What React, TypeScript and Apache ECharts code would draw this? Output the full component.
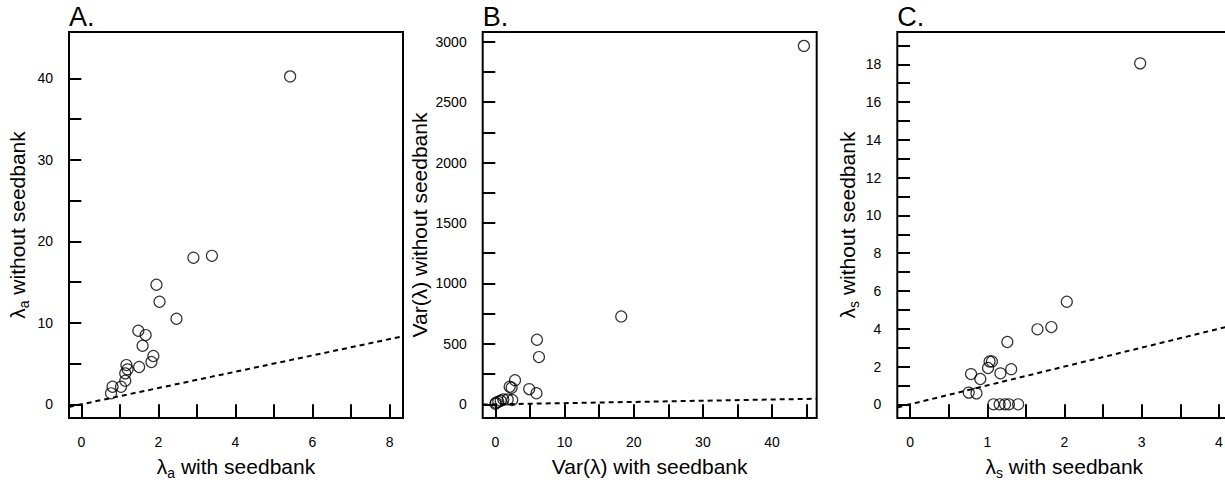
import React, { useEffect, useRef } from "react";
import * as echarts from "echarts";

// ---------- Panel A: lambda_a ----------
const aWith = [0.77, 0.81, 1.03, 1.14, 1.14, 1.2, 1.17, 1.5, 1.82, 1.87, 1.59, 1.48, 1.67, 2.47, 2.03, 1.95, 2.91, 3.39, 5.42];
const aWithout = [1.35, 2.16, 2.16, 2.9, 3.8, 4.29, 4.82, 4.58, 5.19, 5.93, 7.19, 9.03, 8.5, 10.5, 12.59, 14.68, 17.99, 18.23, 40.25];
const aXLim = [-0.32, 8.35];
const aYLim = [-1.68, 45.7];
const aXTicks = [0, 1, 2, 3, 4, 5, 6, 7, 8];
const aXLabels = [0, 2, 4, 6, 8];
const aYTicks = [0, 5, 10, 15, 20, 25, 30, 35, 40];
const aYLabels = [0, 10, 20, 30, 40];

// ---------- Panel B: Var(lambda) ----------
const bWith = [0.02, 0.1, 0.43, 0.78, 1.16, 1.79, 2.45, 2.08, 2.36, 2.85, 4.9, 5.95, 6.02, 6.31, 18.2, 44.6];
const bWithout = [5, 13, 22, 30, 41, 41, 36, 146, 137, 200, 126, 92, 534, 391, 727, 2965];
const bXLim = [-1.82, 46.45];
const bYLim = [-113, 3080];
const bXTicks = [0, 5, 10, 15, 20, 25, 30, 35, 40, 45];
const bXLabels = [0, 10, 20, 30, 40];
const bYTicks = [0, 250, 500, 750, 1000, 1250, 1500, 1750, 2000, 2250, 2500, 2750, 3000];
const bYLabels = [0, 500, 1000, 1500, 2000, 2500, 3000];

// ---------- Panel C: lambda_s ----------
const cWith = [0.76, 0.86, 0.79, 0.91, 1.01, 1.03, 1.06, 1.17, 1.31, 1.26, 1.65, 1.83, 2.03, 2.98, 1.08, 1.16, 1.23, 1.28, 1.4];
const cWithout = [0.62, 0.58, 1.6, 1.34, 1.92, 2.27, 2.27, 1.64, 1.86, 3.3, 3.97, 4.09, 5.43, 18.05, 0, 0, 0, 0, 0];
const cXLim = [-0.165, 4.16];
const cYLim = [-0.725, 19.71];
const cXTicks = [0, 0.5, 1, 1.5, 2, 2.5, 3, 3.5, 4];
const cXLabels = [0, 1, 2, 3, 4];
const cYTicks = [0, 1, 2, 3, 4, 5, 6, 7, 8, 9, 10, 11, 12, 13, 14, 15, 16, 17, 18, 19];
const cYLabels = [0, 2, 4, 6, 8, 10, 12, 14, 16, 18];

const FF = "'Liberation Sans', Arial, Helvetica, sans-serif";

const panels = [
  { letter: "A.", left: 69, xs: aWith, ys: aWithout, xLim: aXLim, yLim: aYLim, xTicks: aXTicks, xLabels: aXLabels, yTicks: aYTicks, yLabels: aYLabels,
    xTitle: "{m|λ}{s|a}{m| with seedbank}", yTitle: "{m|λ}{s|a}{m| without seedbank}", yTitleX: 17 },
  { letter: "B.", left: 482.7, xs: bWith, ys: bWithout, xLim: bXLim, yLim: bYLim, xTicks: bXTicks, xLabels: bXLabels, yTicks: bYTicks, yLabels: bYLabels,
    xTitle: "{m|Var(λ) with seedbank}", yTitle: "{m|Var(λ) without seedbank}", yTitleX: 419 },
  { letter: "C.", left: 897.3, xs: cWith, ys: cWithout, xLim: cXLim, yLim: cYLim, xTicks: cXTicks, xLabels: cXLabels, yTicks: cYTicks, yLabels: cYLabels,
    xTitle: "{m|λ}{s|s}{m| with seedbank}", yTitle: "{m|λ}{s|s}{m| without seedbank}", yTitleX: 847 },
];

const GRID_TOP = 32;
const GRID_H = 386;
const GRID_W = 334;

const rich = {
  m: { fontSize: 21, fontFamily: FF, lineHeight: 28, verticalAlign: "middle", fill: "#000" },
  s: { fontSize: 14, fontFamily: FF, lineHeight: 14, verticalAlign: "bottom", fill: "#000" },
};

function buildOption() {
  const grid: any[] = [];
  const xAxis: any[] = [];
  const yAxis: any[] = [];
  const series: any[] = [];
  const graphic: any[] = [];

  panels.forEach((p, i) => {
    grid.push({
      left: p.left, top: GRID_TOP, width: GRID_W, height: GRID_H,
      outerBoundsMode: "none", containLabel: false,
      show: true, borderColor: "#000", borderWidth: 2, backgroundColor: "transparent",
    });
    const axisBase = (lim: number[], ticks: number[], labels: number[], margin: number) => ({
      type: "value",
      gridIndex: i,
      min: lim[0],
      max: lim[1],
      axisLine: { show: false },
      axisTick: { show: true, inside: false, length: 13, lineStyle: { color: "#000", width: 2 }, customValues: ticks },
      axisLabel: { show: true, margin, color: "#000", fontSize: 14, fontFamily: FF, customValues: labels, formatter: (v: number) => String(v) },
      splitLine: { show: false },
    });
    xAxis.push(axisBase(p.xLim, p.xTicks, p.xLabels, 17));
    yAxis.push(axisBase(p.yLim, p.yTicks, p.yLabels, 16));

    series.push({
      type: "line",
      xAxisIndex: i,
      yAxisIndex: i,
      data: [[p.xLim[0], p.xLim[0]], [p.xLim[1], p.xLim[1]]],
      showSymbol: false,
      symbol: "none",
      clip: true,
      silent: true,
      z: 1,
      lineStyle: { color: "#000", width: 2, type: [5, 4] },
    });
    series.push({
      type: "scatter",
      xAxisIndex: i,
      yAxisIndex: i,
      data: p.xs.map((x, k) => [x, p.ys[k]]),
      symbol: "circle",
      symbolSize: 11,
      z: 2,
      itemStyle: { color: "rgba(0,0,0,0)", borderColor: "#000", borderWidth: 1.2 },
    });

    const cx = p.left + GRID_W / 2;
    graphic.push({
      type: "text",
      x: p.left,
      y: 17,
      style: { text: p.letter, fontSize: 27, fontFamily: FF, fill: "#000", align: "left", verticalAlign: "middle", textAlign: "left", textVerticalAlign: "middle" },
    });
    graphic.push({
      type: "text",
      x: cx,
      y: 466,
      style: { text: p.xTitle, rich, fill: "#000", align: "center", verticalAlign: "middle", textAlign: "center", textVerticalAlign: "middle" },
    });
    graphic.push({
      type: "text",
      x: p.yTitleX,
      y: GRID_TOP + GRID_H / 2,
      rotation: Math.PI / 2,
      style: { text: p.yTitle, rich, fill: "#000", align: "center", verticalAlign: "middle", textAlign: "center", textVerticalAlign: "middle" },
    });
  });

  return { animation: false, backgroundColor: "#fff", grid, xAxis, yAxis, series, graphic };
}

export default function App() {
  const ref = useRef<HTMLDivElement>(null);
  useEffect(() => {
    const chart = echarts.init(ref.current!, null, { renderer: "svg" });
    chart.setOption(buildOption() as any);
    return () => chart.dispose();
  }, []);
  return <div ref={ref} style={{ position: "fixed", left: 0, top: 0, width: 1225, height: 482, background: "#fff" }} />;
}
